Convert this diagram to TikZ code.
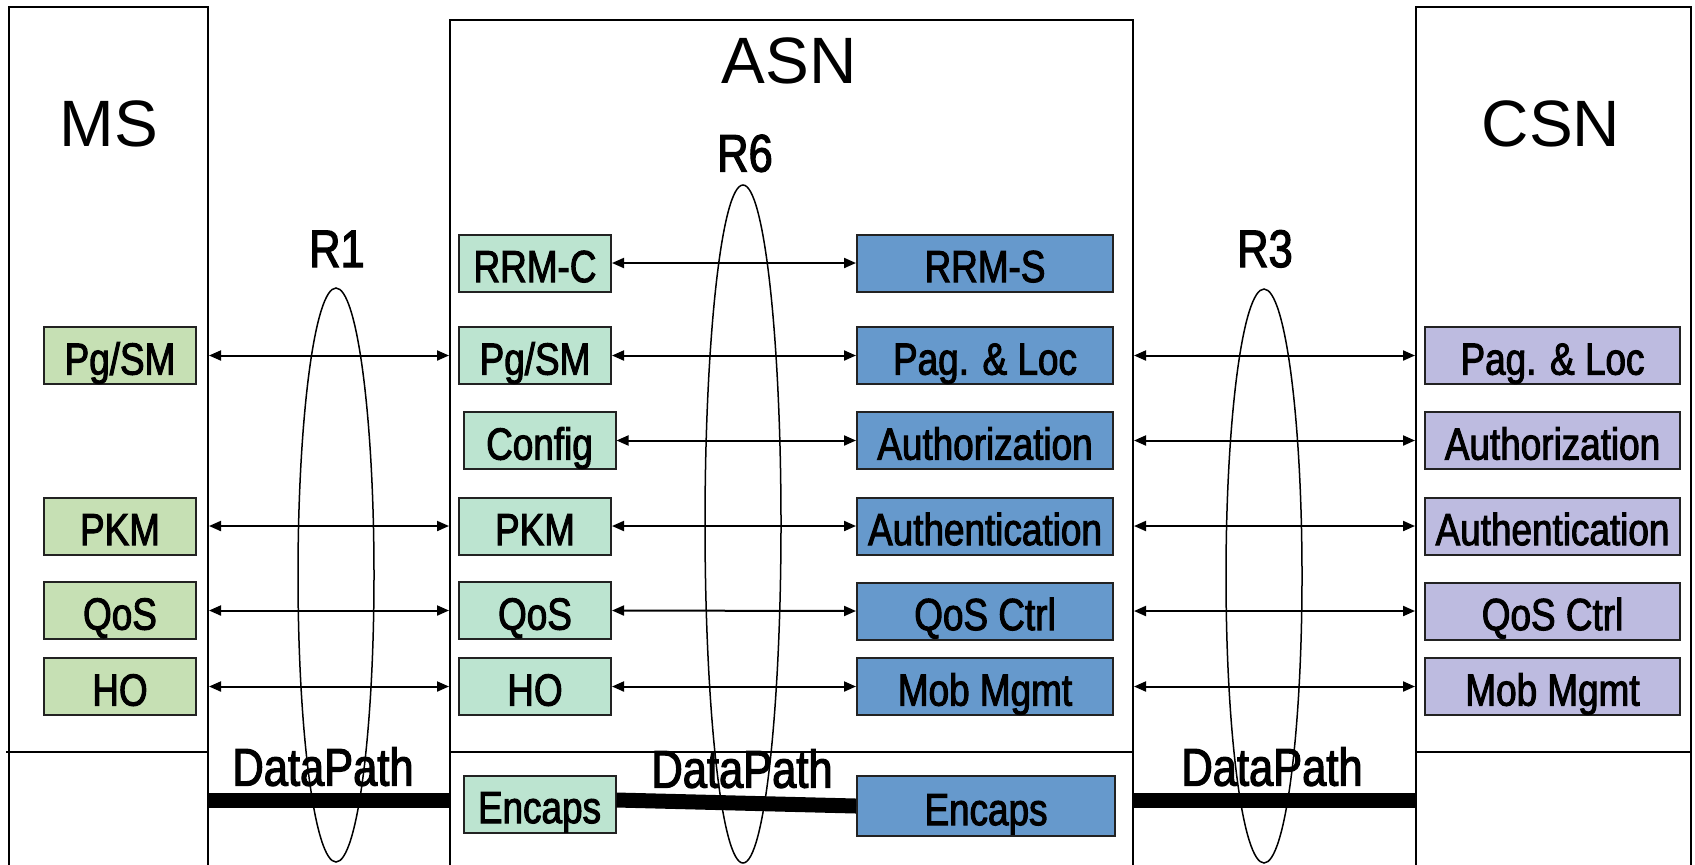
\documentclass[tikz,border=0pt]{standalone}
\usepackage{fontspec}
\setmainfont{Liberation Sans}
\newfontfamily\narrowfont[FakeStretch=0.82, FakeBold=2.2]{Liberation Sans}
\usetikzlibrary{arrows.meta}
\definecolor{msgreen}{HTML}{C6E0B4}
\definecolor{asngreen}{HTML}{BCE4D0}
\definecolor{asnblue}{HTML}{6699CC}
\definecolor{csnlav}{HTML}{BDBBE0}
\definecolor{boxline}{HTML}{222222}
\begin{document}
\begin{tikzpicture}[x=0.5pt,y=-0.5pt,
  container/.style={draw=black, line width=1pt, anchor=north west, inner sep=0pt, minimum height=460pt},
  fbox/.style={draw=boxline, line width=1pt, inner sep=0pt, minimum height=28.5pt,
    font=\narrowfont\fontsize{22.5}{24}\selectfont, text height=19.1pt, text depth=0pt},
  msbox/.style={fbox, fill=msgreen, minimum width=76pt},
  gbox/.style={fbox, fill=asngreen, minimum width=76pt},
  bbox/.style={fbox, fill=asnblue, minimum width=128pt},
  lbox/.style={fbox, fill=csnlav, minimum width=127.5pt},
  title/.style={font=\fontsize{32.8}{36}\selectfont, text height=23.6pt, text depth=0pt, inner sep=0pt},
  rlabel/.style={font=\narrowfont\fontsize{26.5}{28}\selectfont, text height=19.1pt, text depth=0pt, inner sep=0pt},
  biarrow/.style={line width=1pt, {Triangle[length=6pt,width=5pt]}-{Triangle[length=6pt,width=5pt]}},
  datapath/.style={line width=7.5pt, line cap=butt},
  ring/.style={line width=0.75pt}
]
\useasboundingbox (0,0) rectangle (1695,864);
\clip (0,0) rectangle (1695,864);

% containers
\node[container, minimum width=99.5pt] (ms) at (8,6) {};
\node[container, minimum width=341.5pt] (asn) at (449,19) {};
\node[container, minimum width=137.5pt] (csn) at (1415,6) {};

% separators
\draw[line width=1pt] (6,752) -- (207,752);
\draw[line width=1pt] (449,752) -- (1132,752);
\draw[line width=1pt] (1415,752) -- (1690,752);

% titles
\node[title] (msT) at (109,123) {MS};
\node[title] (asnT) at (789,60) {ASN};
\node[title] (csnT) at (1551,123) {CSN};

% MS boxes
\node[msbox] (msPg) at (120,355.5) {Pg/SM};
\node[msbox] (msPKM) at (120,526) {PKM};
\node[msbox] (msQoS) at (120,610.5) {QoS};
\node[msbox] (msHO) at (120,686.5) {HO};

% ASN green boxes
\node[gbox] (gRRM) at (535,263) {RRM-C};
\node[gbox] (gPg) at (535,355.5) {Pg/SM};
\node[gbox] (gCfg) at (539.5,440.5) {Config};
\node[gbox] (gPKM) at (535,526) {PKM};
\node[gbox] (gQoS) at (535,610.5) {QoS};
\node[gbox] (gHO) at (535,686.5) {HO};
\node[gbox] (gEnc) at (539.5,804) {Encaps};

% ASN blue boxes
\node[bbox] (bRRM) at (985,263) {RRM-S};
\node[bbox] (bPag) at (985,355.5) {Pag. \& Loc};
\node[bbox] (bAuz) at (985,440.5) {Authorization};
\node[bbox] (bAun) at (985,526) {Authentication};
\node[bbox] (bQoS) at (985,611) {QoS Ctrl};
\node[bbox] (bMob) at (985,686.5) {Mob Mgmt};
\node[bbox, minimum width=129pt, minimum height=30pt] (bEnc) at (986,806) {Encaps};

% CSN boxes
\node[lbox] (lPag) at (1552.5,355.5) {Pag. \& Loc};
\node[lbox] (lAuz) at (1552.5,440.5) {Authorization};
\node[lbox] (lAun) at (1552.5,526) {Authentication};
\node[lbox] (lQoS) at (1552.5,611) {QoS Ctrl};
\node[lbox] (lMob) at (1552.5,686.5) {Mob Mgmt};

% R1 arrows (MS <-> ASN)
\draw[biarrow] (ms.east |- msPg) -- (asn.west |- msPg);
\draw[biarrow] (ms.east |- msPKM) -- (asn.west |- msPKM);
\draw[biarrow] (ms.east |- msQoS) -- (asn.west |- msQoS);
\draw[biarrow] (ms.east |- msHO) -- (asn.west |- msHO);

% R6 arrows (inside ASN)
\draw[biarrow] (gRRM.east) -- (bRRM.west);
\draw[biarrow] (gPg.east) -- (bPag.west);
\draw[biarrow] (gCfg.east) -- (bAuz.west);
\draw[biarrow] (gPKM.east) -- (bAun.west);
\draw[biarrow] (gQoS.east) -- (bQoS.west);
\draw[biarrow] (gHO.east) -- (bMob.west);

% R3 arrows (ASN <-> CSN)
\draw[biarrow] (asn.east |- lPag) -- (csn.west |- lPag);
\draw[biarrow] (asn.east |- lAuz) -- (csn.west |- lAuz);
\draw[biarrow] (asn.east |- lAun) -- (csn.west |- lAun);
\draw[biarrow] (asn.east |- lQoS) -- (csn.west |- lQoS);
\draw[biarrow] (asn.east |- lMob) -- (csn.west |- lMob);

% data paths
\coordinate (dpy) at (0,800);
\draw[datapath] (ms.east |- dpy) -- (asn.west |- dpy);
\draw[datapath] ([yshift=2pt]gEnc.east) -- (bEnc.west);
\draw[datapath] (asn.east |- dpy) -- (csn.west |- dpy);

% labels
\node[rlabel] (r1) at (337,248) {R1};
\node[rlabel] (r6) at (745,152.5) {R6};
\node[rlabel] (r3) at (1265,248) {R3};
\node[rlabel] (dp1) at (323,766.5) {DataPath};
\node[rlabel] (dp2) at (742,768.5) {DataPath};
\node[rlabel] (dp3) at (1272,766.5) {DataPath};

% reference point ellipses
\draw[ring] (336,575) ellipse [x radius=38, y radius=287];
\draw[ring] (743,524) ellipse [x radius=38, y radius=339];
\draw[ring] (1264,576) ellipse [x radius=38, y radius=287];
\end{tikzpicture}
\end{document}
